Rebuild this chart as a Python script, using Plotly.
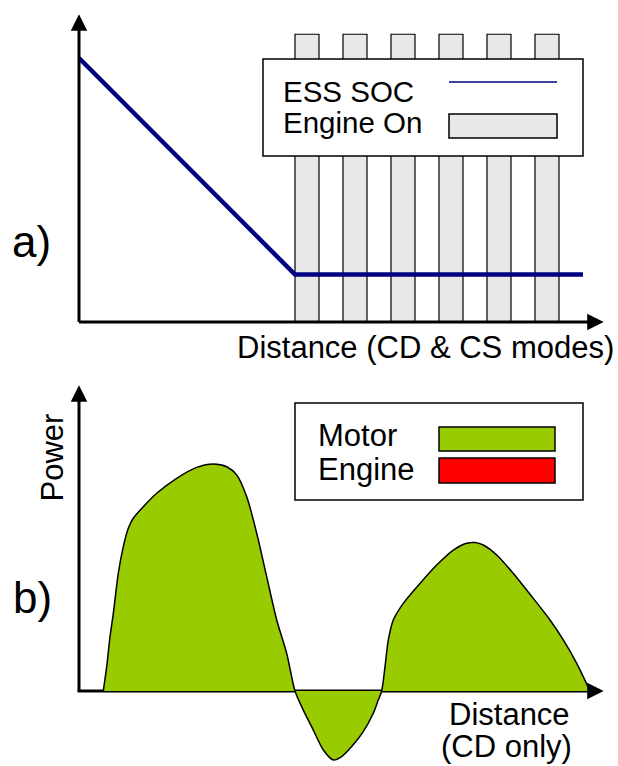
import plotly.graph_objects as go

W, H = 618, 766

# ---------------- data ----------------
# Panel a) distance (arbitrary units) vs ESS state of charge
soc_distance = [0, 45, 105]
soc_values = [100, 18, 18]
engine_on_centers = [47.5, 57.5, 67.5, 77.5, 87.5, 97.5]
engine_on_heights = [109, 109, 109, 109, 109, 109]
engine_on_width = 5

# Panel b) distance (CD only) vs power
power_distance = [5.06, 5.77, 6.46, 7.15, 8.19, 9.23, 10.27, 11.31, 13.4, 16.19,
                  20.35, 24.52, 27.98, 30.77, 32.85, 34.94, 37.02, 39.1, 41.19, 43.27,
                  45.0, 46.73, 48.81, 50.9, 52.98, 54.73, 56.81, 59.23, 61.31, 62.35,
                  63.06, 63.75, 64.44, 65.48, 67.56, 71.04, 74.52, 77.98, 80.77, 82.5,
                  84.23, 87.02, 90.48, 94.65, 98.13, 100.9, 103.69, 106.46]
motor_power = [0, 10.7, 23.9, 34.2, 51.9, 63.6, 71.7, 76.1, 81.2, 87.1,
               93.7, 98.5, 100, 98.8, 95.2, 85.6, 69.5, 50.4, 31.3, 16.6,
               0, -8.4, -17.2, -26.0, -30.4, -28.9, -24.5, -17.9, -9.8, -4.0,
               0, 10.7, 22.5, 31.3, 38.6, 47.4, 55.5, 62.1, 65.1, 65.4,
               64.3, 59.9, 51.8, 40.8, 31.3, 22.5, 12.2, 0]

legend_a_labels = ["ESS SOC", "Engine On"]
legend_b_labels = ["Motor", "Engine"]
panel_labels = ["a)", "b)"]
axis_titles = ["Distance (CD & CS modes)", "Power", "Distance", "(CD only)"]

# ---------------- styling / geometry ----------------
FONT = "Liberation Sans, Arial, sans-serif"
NAVY = "#000080"
GREY = "#e8e8e8"
GREEN = "#99cc00"
RED = "#ff0000"

X0_PX, X_SCALE = 79, 4.8          # distance 0 at pixel 79, 4.8 px per unit
A_Y0_PX, A_SCALE = 322, 2.64      # panel a zero line
B_Y0_PX, B_SCALE = 691, 2.27      # panel b zero line

x_range = [-X0_PX / X_SCALE, (W - X0_PX) / X_SCALE]
ya_range = [(A_Y0_PX - H) / A_SCALE, A_Y0_PX / A_SCALE]
yb_range = [(B_Y0_PX - H) / B_SCALE, B_Y0_PX / B_SCALE]


def P(xpx, ypx):
    return xpx / W, 1 - ypx / H


fig = go.Figure()

fig.add_trace(go.Bar(x=engine_on_centers, y=engine_on_heights, width=engine_on_width,
                     marker=dict(color=GREY, line=dict(color="black", width=1.2)),
                     xaxis="x", yaxis="y", showlegend=False, hoverinfo="skip"))
fig.add_trace(go.Scatter(x=soc_distance, y=soc_values, mode="lines",
                         line=dict(color=NAVY, width=4.5),
                         xaxis="x", yaxis="y", showlegend=False, hoverinfo="skip"))

# x axis line of panel b (drawn under the fill)
ax_tail_x = -1.5 / X_SCALE
ax_head_x = (608 - 4.3 - X0_PX) / X_SCALE
fig.add_trace(go.Scatter(x=[ax_tail_x, 107], y=[0, 0], mode="lines",
                         line=dict(color="black", width=3),
                         xaxis="x2", yaxis="y2", showlegend=False, hoverinfo="skip"))
fig.add_trace(go.Scatter(x=power_distance, y=motor_power, mode="lines",
                         line=dict(color="black", width=1.5, shape="spline", smoothing=0.8),
                         fill="tozeroy", fillcolor=GREEN,
                         xaxis="x2", yaxis="y2", showlegend=False, hoverinfo="skip"))

ann = []


def arrow(xref, yref, xt, yt, xh, yh):
    ann.append(dict(x=xh, y=yh, ax=xt, ay=yt, xref=xref, yref=yref, axref=xref,
                    ayref=yref, text="", showarrow=True, arrowhead=2, arrowsize=1.1,
                    arrowwidth=3, arrowcolor="black", standoff=0))


# panel a axes
arrow("x", "y", ax_tail_x, 0, ax_head_x, 0)
arrow("x", "y", 0, -1.5 / A_SCALE, 0, (A_Y0_PX - 14.3) / A_SCALE)
# panel b axes
arrow("x2", "y2", 106.5, 0, ax_head_x, 0)
arrow("x2", "y2", 0, -1.5 / B_SCALE, 0, (B_Y0_PX - 385.3) / B_SCALE)


def text(t, xpx, ypx, size=31, xanchor="center", angle=0):
    x, y = P(xpx, ypx)
    ann.append(dict(x=x, y=y, xref="paper", yref="paper", text=t, showarrow=False,
                    xanchor=xanchor, yanchor="middle", textangle=angle, borderpad=0,
                    font=dict(family=FONT, size=size, color="black")))


text(panel_labels[0], 31, 241.6, size=44)
text(panel_labels[1], 32, 597.6, size=44)
text(axis_titles[0], 425, 347)
text(axis_titles[1], 52, 457.5, angle=-90)
text(axis_titles[2], 509, 714)
text(axis_titles[3], 506, 746)
text(legend_a_labels[0], 281.5, 91.5, size=29.5, xanchor="left")
text(legend_a_labels[1], 281.5, 123, size=29.5, xanchor="left")
text(legend_b_labels[0], 316.5, 435.8, xanchor="left")
text(legend_b_labels[1], 316.5, 469, xanchor="left")

shapes = []


def rect(x0, y0, x1, y1, fill, lw=1.5):
    a0, b0 = P(x0, y0)
    a1, b1 = P(x1, y1)
    shapes.append(dict(type="rect", xref="paper", yref="paper", x0=a0, y0=b0, x1=a1, y1=b1,
                       fillcolor=fill, line=dict(color="black", width=lw), layer="above"))


rect(263, 59, 583, 156, "white")
a0, b0 = P(449, 82)
a1, b1 = P(557, 82)
shapes.append(dict(type="line", xref="paper", yref="paper", x0=a0, y0=b0, x1=a1, y1=b1,
                   line=dict(color=NAVY, width=1.5), layer="above"))
rect(449, 114, 557, 138, GREY)
rect(295, 403, 583, 500, "white")
rect(439, 427, 555, 451, GREEN)
rect(439, 458, 555, 483, RED)

axis_common = dict(visible=False, showgrid=False, zeroline=False, fixedrange=True)
fig.update_layout(
    width=W, height=H, margin=dict(l=0, r=0, t=0, b=0),
    paper_bgcolor="white", plot_bgcolor="rgba(0,0,0,0)",
    showlegend=False,
    xaxis=dict(domain=[0, 1], range=x_range, anchor="y", **axis_common),
    yaxis=dict(domain=[0, 1], range=ya_range, anchor="x", **axis_common),
    xaxis2=dict(domain=[0, 1], range=x_range, anchor="y2", **axis_common),
    yaxis2=dict(domain=[0, 1], range=yb_range, anchor="x2", **axis_common),
    annotations=ann, shapes=shapes,
)

fig.write_html("out.html", config={"displayModeBar": False},
               post_script="document.body.style.margin='0';")
